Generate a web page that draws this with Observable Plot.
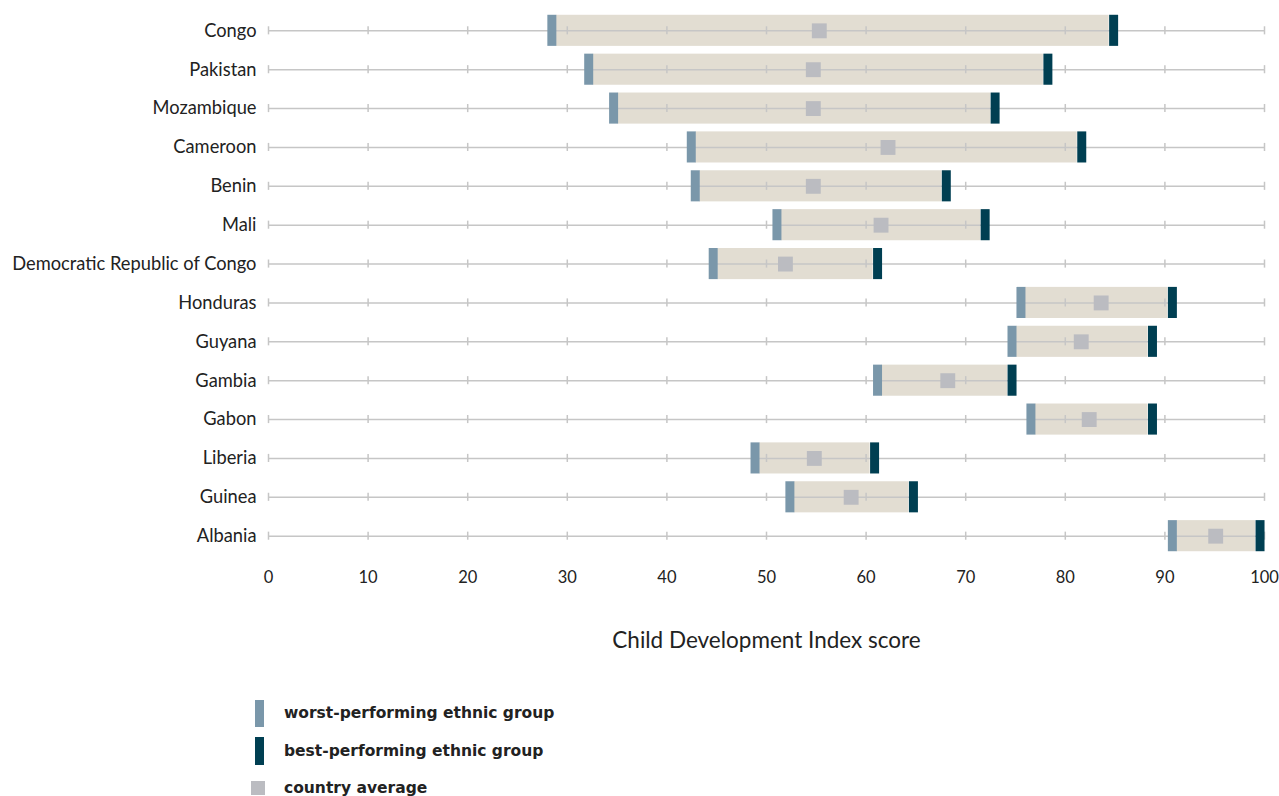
<!DOCTYPE html>
<html>
<head>
<meta charset="utf-8">
<script src="https://cdn.jsdelivr.net/npm/d3@7"></script>
<script src="https://cdn.jsdelivr.net/npm/@observablehq/plot@0.6"></script>
<style>
  body { margin: 0; background: #fff; font-family: Lato, "Open Sans", sans-serif; color: #222; }
  #chart svg { display: block; }
  .legend { margin-left: 251px; margin-top: 34px; }
  .legend .row { display: flex; align-items: center; height: 38px; }
  .legend .sw { width: 33px; display: flex; align-items: center; justify-content: flex-start; }
  .legend .lbl { font-family: "DejaVu Sans", sans-serif; font-weight: bold; font-size: 15.5px; color: #222; }
</style>
</head>
<body>
<div id="chart"></div>
<div class="legend">
  <div class="row"><div class="sw"><span style="display:inline-block;width:9px;height:27px;background:#7a97aa;margin-left:4px"></span></div><div class="lbl">worst-performing ethnic group</div></div>
  <div class="row"><div class="sw"><span style="display:inline-block;width:9px;height:28px;background:#003f52;margin-left:4px"></span></div><div class="lbl">best-performing ethnic group</div></div>
  <div class="row" style="height:35px"><div class="sw"><span style="display:inline-block;width:14px;height:14px;background:#bbbcc1"></span></div><div class="lbl">country average</div></div>
</div>
<script>
const countries = ["Congo","Pakistan","Mozambique","Cameroon","Benin","Mali","Democratic Republic of Congo","Honduras","Guyana","Gambia","Gabon","Liberia","Guinea","Albania"];
const worst   = [28.9, 32.6, 35.1, 42.9, 43.3, 51.5, 45.1, 76.0, 75.1, 61.6, 77.0, 49.3, 52.8, 91.2];
const best    = [84.4, 77.8, 72.5, 81.2, 67.6, 71.5, 60.7, 90.3, 88.3, 74.2, 88.3, 60.4, 64.3, 99.1];
const average = [55.3, 54.7, 54.7, 62.2, 54.7, 61.5, 51.9, 83.6, 81.6, 68.2, 82.4, 54.8, 58.5, 95.1];
const xTicks = [0,10,20,30,40,50,60,70,80,90,100];

const rows = countries.map((c, i) => ({country: c, worst: worst[i], best: best[i], average: average[i]}));
const gridTicks = countries.flatMap(c => xTicks.map(t => ({country: c, x: t})));

const plot = Plot.plot({
  width: 1279,
  height: 660,
  marginLeft: 268,
  marginRight: 15,
  marginTop: 7,
  marginBottom: 101,
  style: {fontFamily: "Lato, 'Open Sans', sans-serif", fontSize: "16px", color: "#222", background: "#fff"},
  x: {domain: [0, 100]},
  y: {domain: countries, padding: 0.2, round: false},
  marks: [
    Plot.barX(rows, {y: "country", x1: "worst", x2: "best", fill: "#e2ddd2"}),
    Plot.ruleY(countries, {y: d => d, x1: 0, x2: 100, stroke: "#c6c6c6", strokeWidth: 1.5}),
    Plot.tickX(gridTicks, {x: "x", y: "country", stroke: "#c6c6c6", strokeWidth: 1.5, insetTop: 11.5, insetBottom: 11.5}),
    Plot.tickX(rows, {x: "worst", y: "country", stroke: "#7a97aa", strokeWidth: 9, dx: -4.5}),
    Plot.tickX(rows, {x: "best", y: "country", stroke: "#003f52", strokeWidth: 9, dx: 4.5}),
    Plot.dot(rows, {x: "average", y: "country", symbol: "square", r: 8.4, fill: "#bbbcc1"}),
    Plot.axisX({ticks: xTicks, tickSize: 0, tickPadding: 12, tickFormat: d => d, label: "Child Development Index score", labelAnchor: "center", labelArrow: "none", labelOffset: 88, fontSize: 16.5}),
    Plot.axisY({tickSize: 0, tickPadding: 12, label: null, fontSize: 18.3})
  ]
});
plot.querySelectorAll("g[aria-label='x-axis label'] text").forEach(t => t.setAttribute("font-size", "22.5px"));
document.getElementById("chart").appendChild(plot);
</script>
</body>
</html>
